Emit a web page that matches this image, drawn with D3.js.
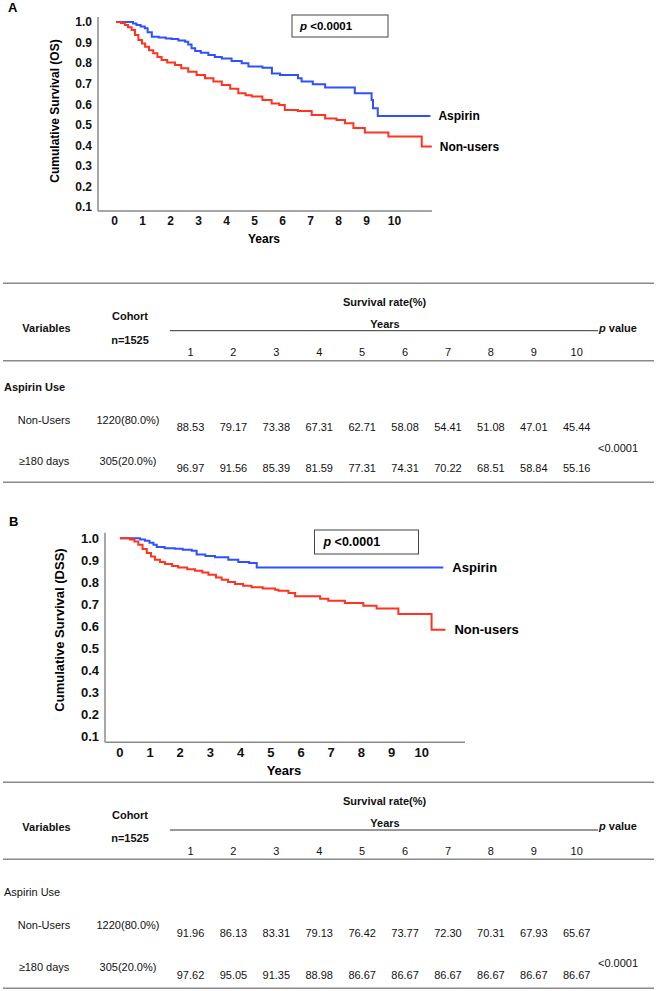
<!DOCTYPE html>
<html>
<head>
<meta charset="utf-8">
<script src="https://cdn.jsdelivr.net/npm/d3@7"></script>
<style>
  html, body { margin: 0; padding: 0; background: #fff; }
  svg { display: block; font-family: "Liberation Sans", Arial, sans-serif; }
</style>
</head>
<body>
<svg id="chart" width="668" height="991"></svg>
<script>
// ---------------- DATA ----------------
const yTicks = [0.1, 0.2, 0.3, 0.4, 0.5, 0.6, 0.7, 0.8, 0.9, 1.0];
const xTicks = [0, 1, 2, 3, 4, 5, 6, 7, 8, 9, 10];

// Panel A (OS) Kaplan-Meier steps
const osAspirinT = [0.07, 0.68, 0.8, 0.95, 1.1, 1.2, 1.35, 1.6, 1.85, 2.06, 2.3, 2.54, 2.65, 2.77, 2.9, 3.1, 3.37, 3.6, 3.85, 4.2, 4.56, 4.8, 5.3, 5.64, 5.93, 6.57, 6.7, 7.1, 7.54, 8.6, 9.2, 9.25, 9.42, 11.3];
const osAspirinS = [1.0, 0.993, 0.985, 0.978, 0.969, 0.95, 0.928, 0.924, 0.92, 0.917, 0.91, 0.904, 0.89, 0.872, 0.859, 0.85, 0.84, 0.83, 0.823, 0.81, 0.799, 0.783, 0.778, 0.75, 0.742, 0.726, 0.71, 0.697, 0.681, 0.653, 0.62, 0.58, 0.543, 0.543];
const osNonT = [0.07, 0.25, 0.39, 0.5, 0.63, 0.75, 0.87, 1.0, 1.11, 1.25, 1.4, 1.55, 1.7, 1.9, 2.18, 2.4, 2.65, 2.95, 3.25, 3.55, 3.85, 4.15, 4.44, 4.7, 4.92, 5.3, 5.63, 5.9, 6.1, 6.57, 7.06, 7.54, 7.95, 8.25, 8.55, 8.96, 9.8, 10.99, 11.35];
const osNonS = [1.0, 0.995, 0.986, 0.975, 0.961, 0.937, 0.912, 0.895, 0.88, 0.863, 0.848, 0.83, 0.815, 0.803, 0.791, 0.775, 0.758, 0.742, 0.726, 0.71, 0.694, 0.675, 0.653, 0.644, 0.637, 0.62, 0.604, 0.596, 0.572, 0.567, 0.548, 0.531, 0.523, 0.508, 0.484, 0.463, 0.443, 0.394, 0.394];

// Panel B (DSS) Kaplan-Meier steps
const dssAspirinT = [0.02, 0.69, 0.85, 1.0, 1.13, 1.24, 1.5, 1.84, 2.1, 2.4, 2.56, 2.85, 3.17, 3.61, 3.94, 4.3, 4.55, 10.73];
const dssAspirinS = [1.0, 0.995, 0.989, 0.98, 0.971, 0.96, 0.955, 0.953, 0.948, 0.944, 0.926, 0.92, 0.914, 0.903, 0.892, 0.888, 0.868, 0.868];
const dssNonT = [0.02, 0.35, 0.5, 0.63, 0.77, 0.91, 1.05, 1.18, 1.35, 1.51, 1.75, 1.95, 2.25, 2.51, 2.75, 2.95, 3.2, 3.39, 3.6, 3.83, 4.1, 4.38, 4.75, 5.16, 5.27, 5.6, 5.82, 6.65, 6.92, 7.47, 8.08, 8.52, 9.24, 10.34, 10.8];
const dssNonS = [1.0, 0.994, 0.985, 0.971, 0.952, 0.933, 0.917, 0.903, 0.892, 0.883, 0.874, 0.868, 0.86, 0.853, 0.845, 0.835, 0.822, 0.812, 0.802, 0.793, 0.785, 0.778, 0.772, 0.767, 0.762, 0.752, 0.737, 0.726, 0.717, 0.706, 0.694, 0.681, 0.657, 0.585, 0.585];

// Tables
const tableYears = [1, 2, 3, 4, 5, 6, 7, 8, 9, 10];
const osNonUsersRates = ["88.53", "79.17", "73.38", "67.31", "62.71", "58.08", "54.41", "51.08", "47.01", "45.44"];
const osAspirinRates  = ["96.97", "91.56", "85.39", "81.59", "77.31", "74.31", "70.22", "68.51", "58.84", "55.16"];
const dssNonUsersRates = ["91.96", "86.13", "83.31", "79.13", "76.42", "73.77", "72.30", "70.31", "67.93", "65.67"];
const dssAspirinRates  = ["97.62", "95.05", "91.35", "88.98", "86.67", "86.67", "86.67", "86.67", "86.67", "86.67"];
const groupLabels = ["Non-Users", "\u2265180 days"];
const cohortLabels = ["1220(80.0%)", "305(20.0%)"];
const seriesNames = ["Aspirin", "Non-users"];
const pText = "<0.0001";

// ---------------- DRAW ----------------
const svg = d3.select("#chart");
const BLUE = "#2f50ff", RED = "#ff3320", AXIS = "#8a8a8a";

function zip(t, s) { return t.map((d, i) => ({ t: d, s: s[i] })); }

function drawKM(cfg) {
  const g = svg.append("g");
  const x = d3.scaleLinear().domain([0, 10]).range([cfg.x0, cfg.x10]);
  const y = d3.scaleLinear().domain([0.1, 1.0]).range([cfg.y01, cfg.y1]);

  // panel letter
  g.append("text").attr("x", cfg.letterX).attr("y", cfg.letterY).attr("dy", "0.35em")
    .attr("font-weight", "bold").attr("font-size", 13).text(cfg.letter);

  // axis lines
  g.append("line").attr("x1", cfg.left).attr("x2", cfg.left).attr("y1", cfg.top).attr("y2", cfg.bottom)
    .attr("stroke", AXIS).attr("stroke-width", 1.5);
  g.append("line").attr("x1", cfg.left).attr("x2", cfg.right).attr("y1", cfg.bottom).attr("y2", cfg.bottom)
    .attr("stroke", AXIS).attr("stroke-width", 1.5);

  const ya = g.append("g").attr("transform", `translate(${cfg.left},0)`)
    .call(d3.axisLeft(y).tickValues(yTicks).tickSize(0).tickPadding(cfg.yPad).tickFormat(d3.format(".1f")));
  ya.select(".domain").remove();
  ya.selectAll("text").attr("font-size", cfg.fs).attr("font-weight", "bold").attr("fill", "#111")
    .attr("font-family", "Liberation Sans, Arial, sans-serif");

  const xa = g.append("g").attr("transform", `translate(0,${cfg.bottom})`)
    .call(d3.axisBottom(x).tickValues(xTicks).tickSize(0).tickPadding(cfg.xPad));
  xa.select(".domain").remove();
  xa.selectAll("text").attr("font-size", cfg.fs).attr("font-weight", "bold").attr("fill", "#111")
    .attr("font-family", "Liberation Sans, Arial, sans-serif");

  g.append("text").attr("x", cfg.xTitleX).attr("y", cfg.xTitleY).attr("dy", "0.35em")
    .attr("text-anchor", "middle").attr("font-weight", "bold").attr("font-size", cfg.fs).text("Years");
  g.append("text").attr("transform", `translate(${cfg.yTitleX},${cfg.yTitleY}) rotate(-90)`)
    .attr("dy", "0.35em").attr("text-anchor", "middle").attr("font-weight", "bold")
    .attr("font-size", cfg.fs).text(cfg.yTitle);

  const line = d3.line().x(d => x(d.t)).y(d => y(d.s)).curve(d3.curveStepAfter);
  g.append("path").datum(cfg.aspirin).attr("d", line).attr("fill", "none")
    .attr("stroke", BLUE).attr("stroke-width", 2);
  g.append("path").datum(cfg.non).attr("d", line).attr("fill", "none")
    .attr("stroke", RED).attr("stroke-width", 2);

  // series labels at end of curves
  const la = cfg.aspirin[cfg.aspirin.length - 1], ln = cfg.non[cfg.non.length - 1];
  g.append("text").attr("x", x(la.t) + cfg.labelGap).attr("y", y(la.s)).attr("dy", "0.35em")
    .attr("font-weight", "bold").attr("font-size", cfg.fs).text(seriesNames[0]);
  g.append("text").attr("x", x(ln.t) + cfg.labelGap).attr("y", y(ln.s)).attr("dy", "0.35em")
    .attr("font-weight", "bold").attr("font-size", cfg.fs).text(seriesNames[1]);

  // p box
  g.append("rect").attr("x", cfg.box[0]).attr("y", cfg.box[1]).attr("width", cfg.box[2]).attr("height", cfg.box[3])
    .attr("fill", "#fff").attr("stroke", "#444").attr("stroke-width", 1);
  const pt = g.append("text").attr("x", cfg.box[0] + cfg.boxPad).attr("y", cfg.box[1] + cfg.box[3] / 2)
    .attr("dy", "0.35em").attr("font-weight", "bold").attr("font-size", cfg.pfs);
  pt.append("tspan").attr("font-style", "italic").text("p");
  pt.append("tspan").text(" " + pText);
}

drawKM({
  letter: "A", letterX: 8, letterY: 7,
  x0: 114, x10: 394, y01: 207, y1: 22,
  left: 98, right: 432, top: 17, bottom: 211,
  yPad: 6, xPad: 5.5, fs: 12, pfs: 11.5,
  xTitleX: 264, xTitleY: 238.5, yTitleX: 55, yTitleY: 111,
  yTitle: "Cumulative Survival (OS)",
  aspirin: zip(osAspirinT, osAspirinS), non: zip(osNonT, osNonS),
  labelGap: 8,
  box: [292, 15, 96, 22], boxPad: 8
});

drawKM({
  letter: "B", letterX: 9, letterY: 521,
  x0: 119.3, x10: 421.3, y01: 736.7, y1: 538.3,
  left: 105, right: 465, top: 532.7, bottom: 742.3,
  yPad: 6, xPad: 5.8, fs: 13, pfs: 12.5,
  xTitleX: 284, xTitleY: 770, yTitleX: 59, yTitleY: 630,
  yTitle: "Cumulative Survival (DSS)",
  aspirin: zip(dssAspirinT, dssAspirinS), non: zip(dssNonT, dssNonS),
  labelGap: 9,
  box: [314.5, 530, 104, 24], boxPad: 9
});

function drawTable(cfg) {
  const g = svg.append("g").attr("font-size", 11).attr("fill", "#111");
  const top = cfg.top;
  const col = d3.scaleLinear().domain([1, 10]).range([190.5, 576.7]);
  const hl = (yy, x1, x2, c, w) => g.append("line").attr("x1", x1).attr("x2", x2)
    .attr("y1", yy).attr("y2", yy).attr("stroke", c).attr("stroke-width", w);
  const txt = (xx, yy, s, anchor, bold) => g.append("text").attr("x", xx).attr("y", yy).attr("dy", "0.35em")
    .attr("text-anchor", anchor).attr("font-weight", bold ? "bold" : "normal").text(s);

  hl(top, 3, 654, "#8a8a8a", 1.5);
  hl(top + cfg.r.under, 170, 598, "#333", 1);
  hl(top + cfg.r.hline, 3, 654, "#8a8a8a", 1.5);
  hl(top + cfg.r.bottom, 3, 654, "#8a8a8a", 1.5);

  txt(343, top + cfg.r.surv, "Survival rate(%)", "start", true);
  txt(385, top + cfg.r.years, "Years", "middle", true);
  txt(46.5, top + cfg.r.vars, "Variables", "middle", true);
  txt(130, top + cfg.r.cohort, "Cohort", "middle", true);
  txt(130, top + cfg.r.n, "n=1525", "middle", true);
  const pv = g.append("text").attr("x", 599).attr("y", top + cfg.r.pval).attr("dy", "0.35em").attr("font-weight", "bold");
  pv.append("tspan").attr("font-style", "italic").text("p");
  pv.append("tspan").text(" value");

  tableYears.forEach(yr => txt(col(yr), top + cfg.r.head, String(yr), "middle", false));
  txt(4, top + cfg.r.use, "Aspirin Use", "start", cfg.useBold);

  [cfg.non, cfg.asp].forEach((rates, i) => {
    const rl = i === 0 ? cfg.r.row1 : cfg.r.row2;
    const rv = i === 0 ? cfg.r.val1 : cfg.r.val2;
    txt(44, top + rl, groupLabels[i], "middle", false);
    txt(128, top + rl, cohortLabels[i], "middle", false);
    rates.forEach((v, j) => txt(col(tableYears[j]), top + rv, v, "middle", false));
  });
  txt(598, top + cfg.r.p, pText, "start", false);
}

drawTable({
  top: 283.3, useBold: true,
  non: osNonUsersRates, asp: osAspirinRates,
  r: { surv: 18.4, cohort: 32.4, years: 40.7, vars: 44.4, pval: 44.4, under: 47.4, n: 56.7,
       head: 69, hline: 77.4, use: 104, row1: 136.7, val1: 144, p: 165, row2: 177.7, val2: 185, bottom: 199 }
});

drawTable({
  top: 782.3, useBold: false,
  non: dssNonUsersRates, asp: dssAspirinRates,
  r: { surv: 18.4, cohort: 32.7, years: 41, vars: 44.4, pval: 43.7, under: 47.7, n: 56,
       head: 68.7, hline: 77, use: 109.4, row1: 142.7, val1: 151, p: 180.4, row2: 184.4, val2: 192.7, bottom: 206 }
});
</script>
</body>
</html>
